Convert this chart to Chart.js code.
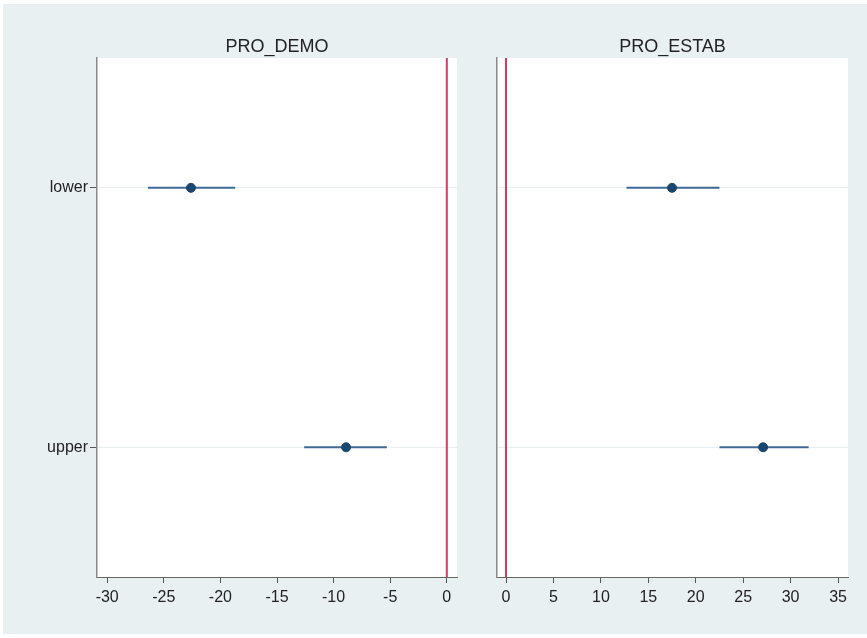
<!DOCTYPE html>
<html>
<head>
<meta charset="utf-8">
<script src="https://cdn.jsdelivr.net/npm/chart.js@4"></script>
<style>
  html,body{margin:0;padding:0;background:#ffffff;overflow:hidden;width:867px;height:638px;}
  #bg{position:absolute;left:3px;top:4px;width:864px;height:630px;background:#e9f0f2;}
  #c1{position:absolute;left:0;top:0;}
  #c2{position:absolute;left:460px;top:0;}
</style>
</head>
<body>
<div id="bg"></div>
<canvas id="c1" width="470" height="638"></canvas>
<canvas id="c2" width="407" height="638"></canvas>
<script>
// ---- data ----
const categories = ["lower", "upper"];
const panelTitles = ["PRO_DEMO", "PRO_ESTAB"];
const demoEst = [-22.6, -8.9];
const demoLo  = [-26.4, -12.6];
const demoHi  = [-18.7, -5.3];
const estabEst = [17.5, 27.1];
const estabLo  = [12.7, 22.5];
const estabHi  = [22.5, 31.9];
const xTicksDemo  = [-30, -25, -20, -15, -10, -5, 0];
const xTicksEstab = [0, 5, 10, 15, 20, 25, 30, 35];
const refValue = 0;

const FONT = "'Liberation Sans', Arial, Helvetica, sans-serif";
const ciColor = '#3f6896';
const ptColor = '#1a476f';
const refColor = '#d93a5f';

const whiteArea = {
  id: 'whiteArea',
  beforeDraw(chart) {
    const {ctx, chartArea: a} = chart;
    ctx.save();
    ctx.fillStyle = '#ffffff';
    ctx.fillRect(a.left, a.top, a.right - a.left, a.bottom - a.top);
    ctx.restore();
  }
};

function buildDatasets(est, lo, hi) {
  const ds = [];
  categories.forEach((c, i) => {
    ds.push({
      type: 'line',
      label: c + ' CI',
      data: [{x: lo[i], y: i + 1}, {x: hi[i], y: i + 1}],
      borderColor: ciColor,
      borderWidth: 2,
      pointRadius: 0,
      order: 2
    });
  });
  ds.push({
    type: 'scatter',
    label: 'estimate',
    data: categories.map((c, i) => ({x: est[i], y: i + 1})),
    backgroundColor: ptColor,
    borderColor: ptColor,
    pointRadius: 4.5,
    order: 1
  });
  ds.push({
    type: 'line',
    label: 'ref',
    data: [{x: refValue, y: 0.5}, {x: refValue, y: 2.5}],
    borderColor: refColor,
    borderWidth: 2,
    pointRadius: 0,
    order: 0
  });
  return ds;
}

function makeChart(canvasId, title, est, lo, hi, xTicks, xmin, xmax, showY, yWidth, padRight) {
  return new Chart(document.getElementById(canvasId), {
    type: 'scatter',
    data: { datasets: buildDatasets(est, lo, hi) },
    plugins: [whiteArea],
    options: {
      responsive: false,
      animation: false,
      layout: { padding: { left: 0, right: padRight, top: 0, bottom: 21 } },
      plugins: {
        legend: { display: false },
        tooltip: { enabled: false },
        title: {
          display: true,
          fullSize: false,
          text: title,
          color: '#222222',
          font: { family: FONT, size: 18, weight: 'normal', lineHeight: 1.2 },
          padding: { top: 36.5, bottom: 0 }
        }
      },
      scales: {
        x: {
          type: 'linear',
          min: xmin,
          max: xmax,
          afterBuildTicks: (s) => { s.ticks = xTicks.map(v => ({value: v})); },
          afterFit: (s) => { s.height = 40; },
          grid: { drawOnChartArea: false, drawTicks: true, tickLength: 6, color: '#555555' },
          border: { display: true, color: '#666666', width: 1 },
          ticks: { color: '#222222', padding: 5, font: { family: FONT, size: 16 }, maxRotation: 0, callback: v => String(v) }
        },
        y: {
          type: 'linear',
          min: 0.5,
          max: 2.5,
          reverse: true,
          afterBuildTicks: (s) => { s.ticks = categories.map((c, i) => ({value: i + 1})); },
          afterFit: (s) => { s.width = yWidth; },
          grid: {
            drawOnChartArea: true,
            drawTicks: showY,
            tickLength: 7,
            color: '#e9eff1',
            tickColor: '#555555'
          },
          border: { display: true, color: '#8a8a8a', width: 1.5 },
          ticks: {
            display: showY,
            color: '#222222',
            padding: 2,
            font: { family: FONT, size: 16 },
            callback: (v) => categories[Math.round(v) - 1]
          }
        }
      }
    }
  });
}

makeChart('c1', panelTitles[0], demoEst, demoLo, demoHi, xTicksDemo, -30.9, 0.9, true, 97, 13);
makeChart('c2', panelTitles[1], estabEst, estabLo, estabHi, xTicksEstab, -0.95, 36.05, false, 37, 19);
</script>
</body>
</html>
